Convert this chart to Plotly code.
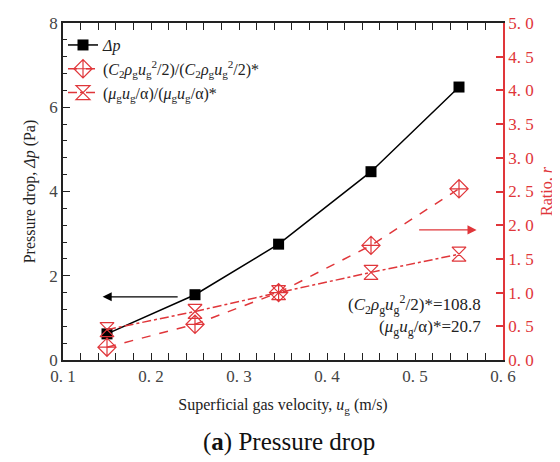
import plotly.graph_objects as go

u = [0.15, 0.25, 0.345, 0.45, 0.55]
dp = [0.62, 1.55, 2.75, 4.47, 6.48]
r_c2 = [0.19, 0.53, 1.0, 1.70, 2.54]
r_mu = [0.45, 0.72, 1.0, 1.30, 1.57]

x_ticks = [0.1, 0.2, 0.3, 0.4, 0.5, 0.6]
x_ticktext = ["0. 1", "0. 2", "0. 3", "0. 4", "0. 5", "0. 6"]
y2_ticks = [0, 0.5, 1, 1.5, 2, 2.5, 3, 3.5, 4, 4.5, 5]
y2_ticktext = ["0. 0", "0. 5", "1. 0", "1. 5", "2. 0", "2. 5", "3. 0", "3. 5", "4. 0", "4. 5", "5. 0"]

RED = "#e0363a"
FONT = "Times New Roman"

fig = go.Figure()
fig.add_trace(go.Scatter(
    x=u, y=dp, mode="lines+markers", name="<i>Δp</i>",
    line=dict(color="black", width=1.5),
    marker=dict(symbol="square", size=11, color="black"),
))
fig.add_trace(go.Scatter(
    x=u, y=r_c2, mode="lines+markers", yaxis="y2",
    name="(<i>C</i><sub>2</sub><i>ρ</i><sub>g</sub><i>u</i><sub>g</sub><sup>2</sup>/2)/(<i>C</i><sub>2</sub><i>ρ</i><sub>g</sub><i>u</i><sub>g</sub><sup>2</sup>/2)*",
    line=dict(color=RED, width=1.5, dash="dash"),
    marker=dict(symbol="diamond-cross-open", size=14, color=RED, line=dict(width=1.2)),
))
fig.add_trace(go.Scatter(
    x=u, y=r_mu, mode="lines+markers", yaxis="y2",
    name="(<i>μ</i><sub>g</sub><i>u</i><sub>g</sub>/α)/(<i>μ</i><sub>g</sub><i>u</i><sub>g</sub>/α)*",
    line=dict(color=RED, width=1.5, dash="dashdot"),
    marker=dict(symbol="hourglass-open", size=14, color=RED, line=dict(width=1.2)),
))

fig.update_layout(
    width=560, height=462,
    margin=dict(l=55, r=65, t=15, b=110, autoexpand=False),
    paper_bgcolor="white", plot_bgcolor="white",
    font=dict(family=FONT, size=15, color="#222"),
    showlegend=True,
    legend=dict(x=0.0, y=0.985, xanchor="left", yanchor="top",
                bgcolor="rgba(0,0,0,0)", font=dict(size=16, family=FONT),
                itemwidth=30, tracegroupgap=0),
    xaxis=dict(
        range=[0.1, 0.6], tickvals=x_ticks, ticktext=x_ticktext, automargin=False,
        ticks="inside", ticklen=7, tickcolor="#222", tickwidth=1.2,
        minor=dict(dtick=0.02, ticks="inside", ticklen=4, tickcolor="#222"),
        showline=True, linecolor="#222", linewidth=1.5, mirror="allticks",
        showgrid=False, zeroline=False,
        tickfont=dict(size=17, color="#444"),
        title=dict(text="Superficial gas velocity, <i>u</i><sub>g</sub> (m/s)",
                   font=dict(size=16, color="#222"), standoff=14),
    ),
    yaxis=dict(
        range=[0, 8], dtick=2, ticks="inside", ticklen=7, tickcolor="#222", tickwidth=1.2,
        minor=dict(dtick=0.4, ticks="inside", ticklen=4, tickcolor="#222"), automargin=False,
        showline=True, linecolor="#222", linewidth=1.5,
        showgrid=False, zeroline=False,
        tickfont=dict(size=17, color="#444"),
        title=dict(text="Pressure drop, <i>Δp</i> (Pa)", font=dict(size=16, color="#222"), standoff=10),
    ),
    yaxis2=dict(
        range=[0, 5], overlaying="y", side="right", automargin=False,
        tickvals=y2_ticks, ticktext=y2_ticktext,
        ticks="inside", ticklen=7, tickcolor=RED, tickwidth=1.5,
        showline=True, linecolor=RED, linewidth=1.5,
        showgrid=False, zeroline=False,
        tickfont=dict(size=17, color=RED),
        title=dict(text="Ratio, <i>r</i>", font=dict(size=16, color=RED), standoff=8),
    ),
)

fig.add_annotation(x=0.145, y=1.5, ax=0.232, ay=1.5, xref="x", yref="y", axref="x", ayref="y",
                   showarrow=True, arrowhead=2, arrowsize=1.4, arrowwidth=1.3, arrowcolor="black", text="")
fig.add_annotation(x=0.57, y=1.93, ax=0.503, ay=1.93, xref="x", yref="y2", axref="x", ayref="y2",
                   showarrow=True, arrowhead=2, arrowsize=1.4, arrowwidth=1.3, arrowcolor=RED, text="")
fig.add_annotation(x=0.577, y=0.83, xref="x", yref="y2", xanchor="right", yanchor="middle",
                   showarrow=False, font=dict(size=17, color="#222"),
                   text="(<i>C</i><sub>2</sub><i>ρ</i><sub>g</sub><i>u</i><sub>g</sub><sup>2</sup>/2)*=108.8")
fig.add_annotation(x=0.577, y=0.47, xref="x", yref="y2", xanchor="right", yanchor="middle",
                   showarrow=False, font=dict(size=17, color="#222"),
                   text="(<i>μ</i><sub>g</sub><i>u</i><sub>g</sub>/α)*=20.7")
fig.add_annotation(x=(281 - 55) / 440, y=-(434 - 352) / 337, xref="paper", yref="paper",
                   xanchor="center", yanchor="middle",
                   showarrow=False, font=dict(size=25, color="#111", family=FONT),
                   text="(<b>a</b>) Pressure drop")

fig.write_html("out.html")
